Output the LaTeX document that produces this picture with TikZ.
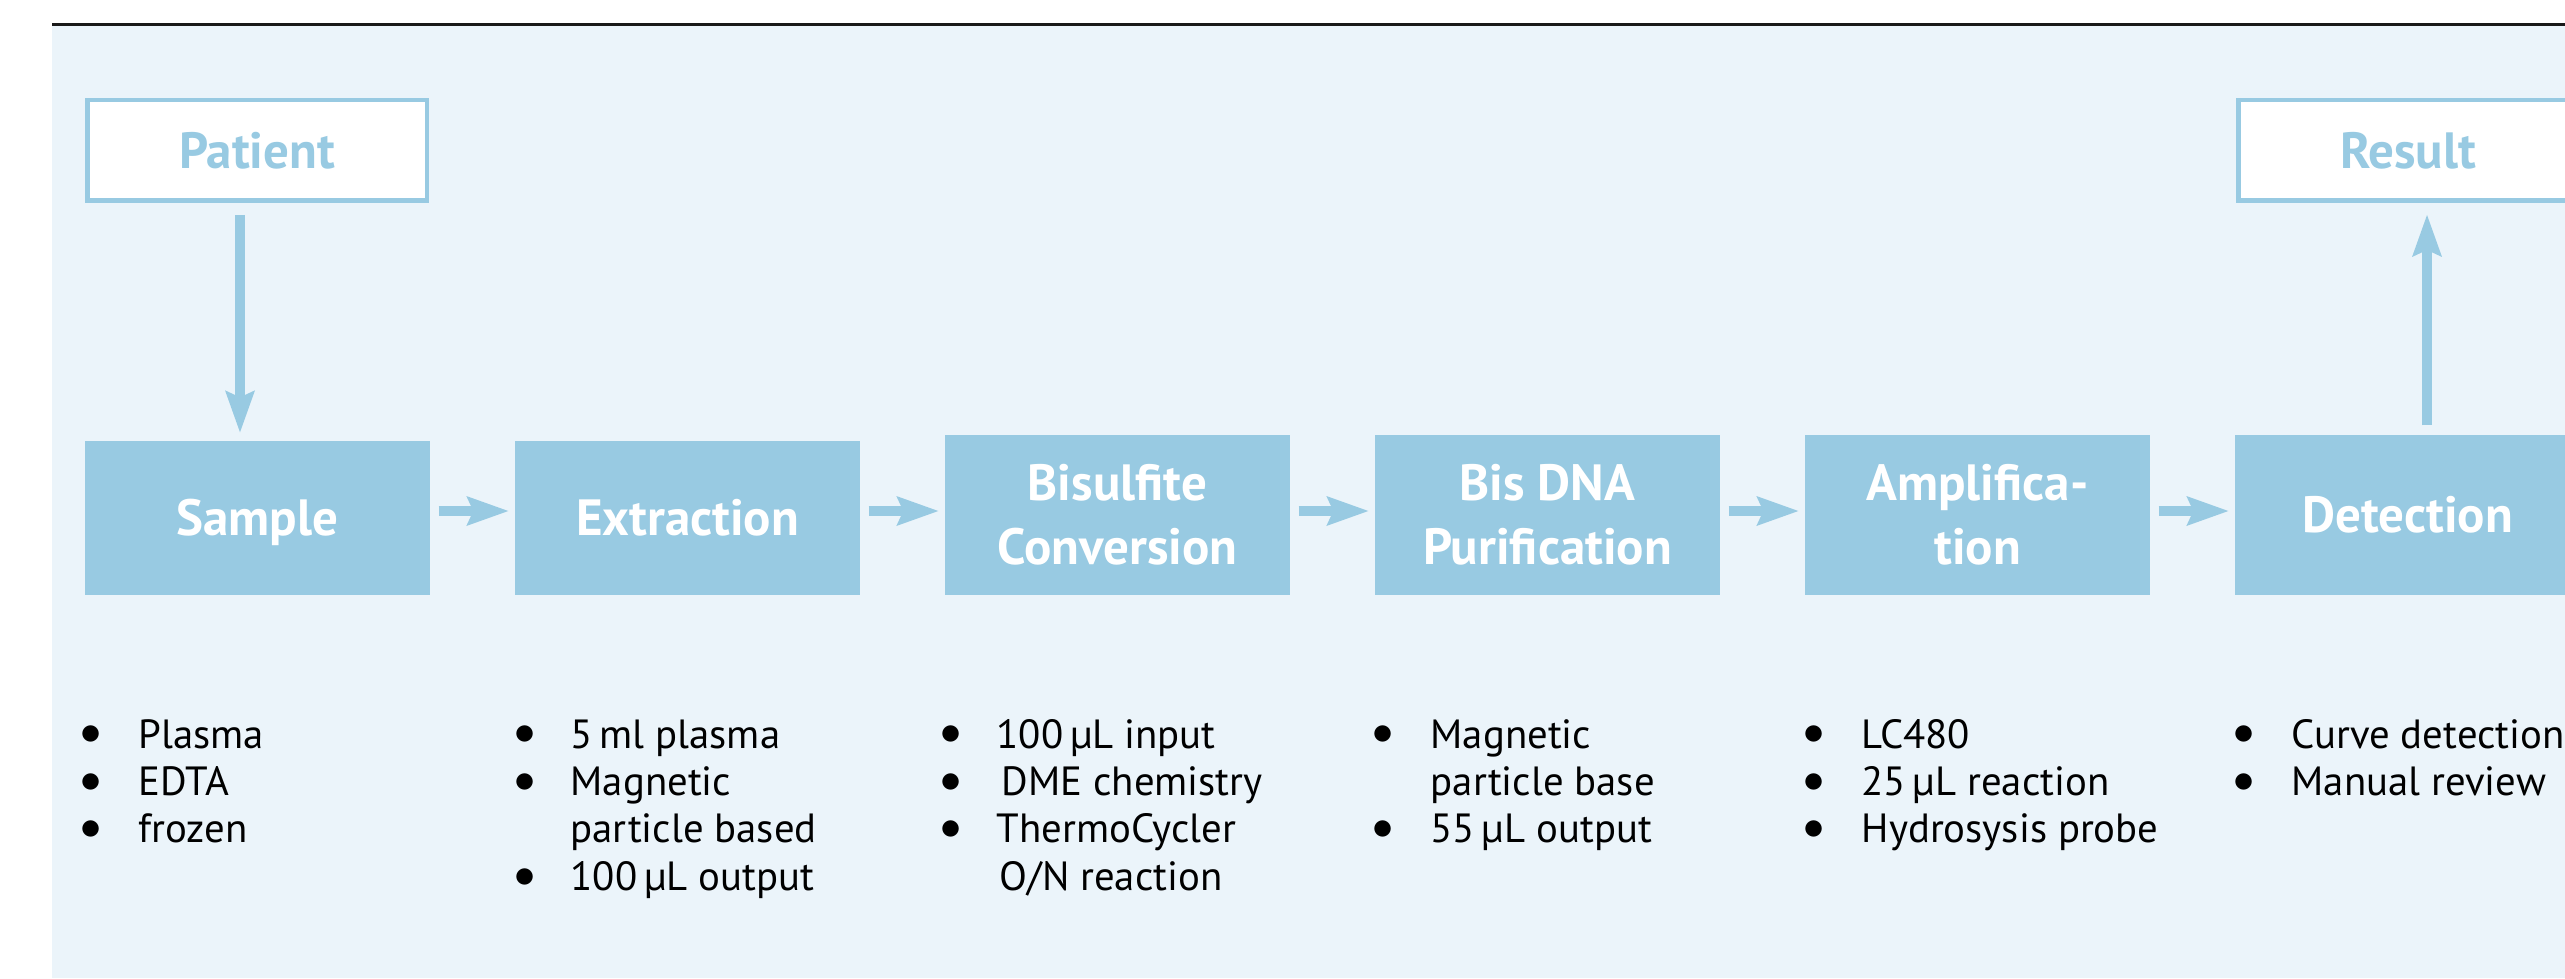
\documentclass[tikz,border=0pt]{standalone}
\usepackage{fontspec}
\setmainfont{PT Sans}
\usetikzlibrary{arrows.meta}
\definecolor{paneblue}{RGB}{235,244,250}
\definecolor{boxblue}{RGB}{152,202,226}
\definecolor{rulegray}{RGB}{25,25,25}

\newcommand{\pt}{\makebox[0pt]{\raisebox{0.9pt}{$\bullet$}}}

\begin{document}
\begin{tikzpicture}[x=0.1mm, y=-0.1mm,
  stage/.style={fill=boxblue, text=white, inner sep=0pt,
    font=\fontsize{14.5}{18.2}\selectfont\bfseries, align=center,
    minimum width=34.5mm, text height=10.15pt, text depth=0pt},
  twoline/.style={text height=28.35pt, text depth=0pt},
  endpoint/.style={draw=boxblue, line width=0.45mm, fill=white, text=boxblue,
    font=\fontsize{14.5}{16}\selectfont\bfseries, inner sep=0pt,
    minimum width=33.95mm, minimum height=10.05mm,
    text height=10.15pt, text depth=0pt},
  flow/.style={draw=boxblue, line width=1mm,
    -{Stealth[length=4.2mm, width=3mm, inset=0.7mm, line width=0pt]}},
  notes/.style={font=\fontsize{11.6}{13.5}\selectfont, inner sep=0pt,
    anchor=base west, text=black},
]
\useasboundingbox (0,0) rectangle (2565,978);
\clip (0,0) rectangle (2565,978);

% panel and top rule
\fill[white] (0,0) rectangle (2565,978);
\fill[paneblue] (52,26) rectangle (2565,978);
\draw[rulegray, line width=0.3mm] (52,25) -- (2565,25);

% start and end
\node[endpoint] (patient) at (257,150.5) {Patient};
\node[endpoint] (result) at (2408,150.5) {Result};

% process stages
\node[stage, minimum height=15.4mm] (sample)  at (257.5,518) {Sample};
\node[stage, minimum height=15.4mm] (extract) at (687.5,518) {Extraction};
\node[stage, twoline, minimum height=16mm] (bisulf)  at (1117.5,515) {Bisulfite\\Conversion};
\node[stage, twoline, minimum height=16mm] (purify)  at (1547.5,515) {Bis DNA\\Purification};
\node[stage, twoline, minimum height=16mm] (amplify) at (1977.5,515) {Amplifica-\\tion};
\node[stage, minimum height=16mm] (detect) at (2407.5,515) {Detection};

% connectors
\coordinate (flowrow) at (0,511);
\coordinate (downcol) at (240,0);
\coordinate (upcol) at (2427,0);
\draw[flow, shorten <=1.2mm, shorten >=0.8mm] (patient.south -| downcol) -- (sample.north -| downcol);
\foreach \a/\b in {sample/extract, extract/bisulf, bisulf/purify, purify/amplify, amplify/detect}
  \draw[flow, shorten <=0.8mm, shorten >=0.6mm] (\a.east |- flowrow) -- (\b.west |- flowrow);
\draw[flow, shorten <=0.9mm, shorten >=1.2mm] (detect.north -| upcol) -- (result.south -| upcol);

% details under each stage
\node[notes] (n1) at (90,748) {\begin{tabular}[t]{@{}l@{\hspace{4.8mm}}l@{}}
  \pt & Plasma\\ \pt & EDTA\\ \pt & frozen\end{tabular}};
\node[notes] (n2) at (524,748) {\begin{tabular}[t]{@{}l@{\hspace{4.6mm}}l@{}}
  \pt & 5\,ml plasma\\ \pt & Magnetic\\ & particle based\\ \pt & 100\,µL output\end{tabular}};
\node[notes] (n3) at (950,748) {\begin{tabular}[t]{@{}l@{\hspace{4.6mm}}l@{}}
  \pt & 100\,µL input\\ \pt & \hspace{0.5mm}DME chemistry\\ \pt & ThermoCycler\\ & \hspace{0.3mm}O/N reaction\end{tabular}};
\node[notes] (n4) at (1382,748) {\begin{tabular}[t]{@{}l@{\hspace{4.8mm}}l@{}}
  \pt & Magnetic\\ & particle base\\ \pt & 55\,µL output\end{tabular}};
\node[notes] (n5) at (1813,748) {\begin{tabular}[t]{@{}l@{\hspace{4.8mm}}l@{}}
  \pt & LC480\\ \pt & 25\,µL reaction\\ \pt & Hydrosysis probe\end{tabular}};
\node[notes] (n6) at (2243,748) {\begin{tabular}[t]{@{}l@{\hspace{4.8mm}}l@{}}
  \pt & Curve detection\\ \pt & Manual review\end{tabular}};
\end{tikzpicture}
\end{document}
